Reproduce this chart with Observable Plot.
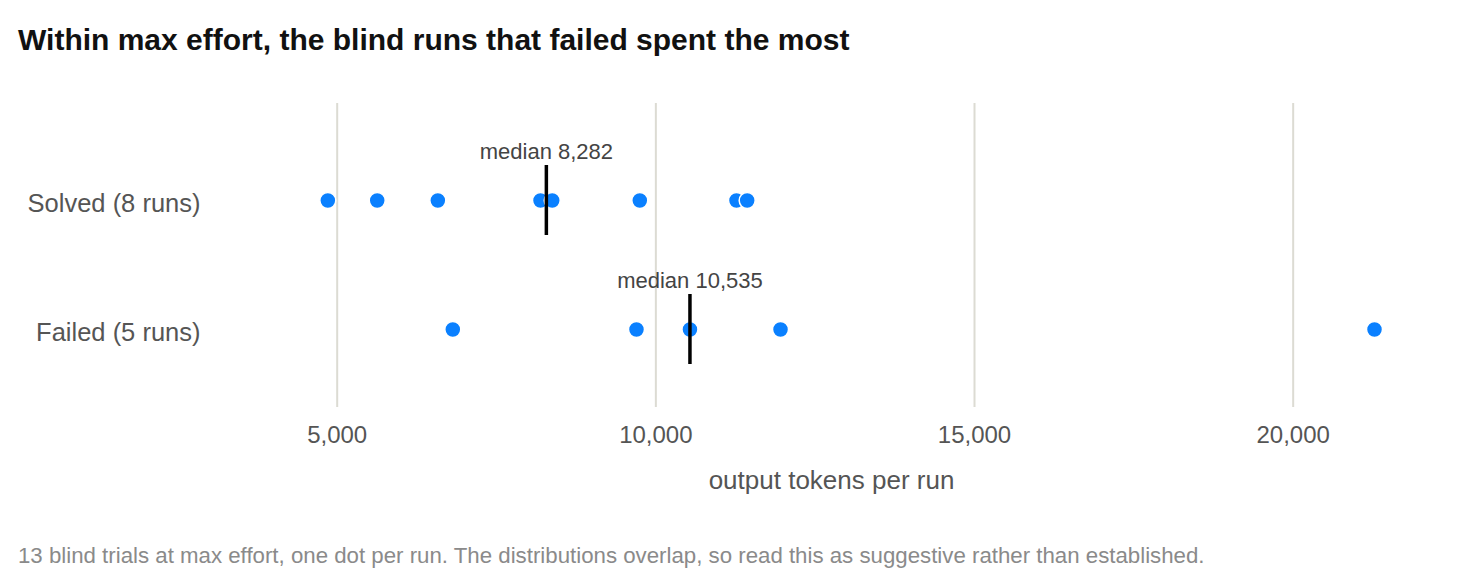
<!DOCTYPE html>
<html>
<head>
<meta charset="utf-8">
<script src="https://cdn.jsdelivr.net/npm/d3@7"></script>
<script src="https://cdn.jsdelivr.net/npm/@observablehq/plot@0.6"></script>
<style>
  html, body { margin: 0; padding: 0; background: #fff; }
  body { width: 1480px; height: 580px; position: relative; font-family: "Liberation Sans", Arial, Helvetica, sans-serif; }
  #title { position: absolute; left: 18px; top: 22px; line-height: 36px; font-size: 30px; font-weight: bold; color: #111; white-space: nowrap; }
  #chart { position: absolute; left: 0; top: 70px; }
  #caption { position: absolute; left: 18px; top: 543px; line-height: 26px; font-size: 22.25px; color: #8a8a8a; white-space: nowrap; }
</style>
</head>
<body>
<div id="title">Within max effort, the blind runs that failed spent the most</div>
<div id="chart"></div>
<div id="caption">13 blind trials at max effort, one dot per run. The distributions overlap, so read this as suggestive rather than established.</div>
<script>
const categories = ["Solved (8 runs)", "Failed (5 runs)"];
const solvedTokens = [4853, 5628, 6579, 8190, 8374, 9748, 11265, 11433];
const failedTokens = [6814, 9696, 10535, 11956, 21276];
const xTicks = [5000, 10000, 15000, 20000];
const xLabel = "output tokens per run";

const runs = [
  ...solvedTokens.map(v => ({group: categories[0], tokens: v})),
  ...failedTokens.map(v => ({group: categories[1], tokens: v}))
];
const medians = [
  {group: categories[0], tokens: d3.median(solvedTokens)},
  {group: categories[1], tokens: d3.median(failedTokens)}
];
const fmt = d3.format(",");

const chart = Plot.plot({
  width: 1480,
  height: 427,
  marginTop: 33,
  marginBottom: 90,
  marginLeft: 220,
  marginRight: 38,
  style: {fontFamily: "'Liberation Sans', Arial, Helvetica, sans-serif", background: "#fff"},
  x: {domain: [3169, 22343], ticks: xTicks, tickFormat: fmt},
  y: {domain: categories, range: [94.5, 295.5], paddingInner: 0.4538, paddingOuter: 0},
  marks: [
    Plot.gridX(xTicks, {stroke: "#dcdbd3", strokeOpacity: 1, strokeWidth: 2}),
    Plot.axisX({ticks: xTicks, tickFormat: fmt, tickSize: 0, tickPadding: 18, fontSize: 24, fill: "#555", label: null}),
    Plot.axisX({ticks: [], tickSize: 0, fontSize: 26, fill: "#555", label: xLabel, labelAnchor: "center", labelArrow: "none", labelOffset: 81}),
    Plot.axisY({tickSize: 0, tickPadding: 20, fontSize: 25.5, fill: "#555", dy: 3, label: null}),
    Plot.dot(runs, {x: "tokens", y: "group", r: 8, fill: "#0a80ff", stroke: "#fff", strokeWidth: 1.5}),
    Plot.tickX(medians, {x: "tokens", y: "group", stroke: "#000", strokeWidth: 3.5}),
    Plot.text(medians, {x: "tokens", y: "group", text: d => `median ${fmt(d.tokens)}`, dy: -49, fontSize: 22, fill: "#444"})
  ]
});
document.getElementById("chart").appendChild(chart);
</script>
</body>
</html>
